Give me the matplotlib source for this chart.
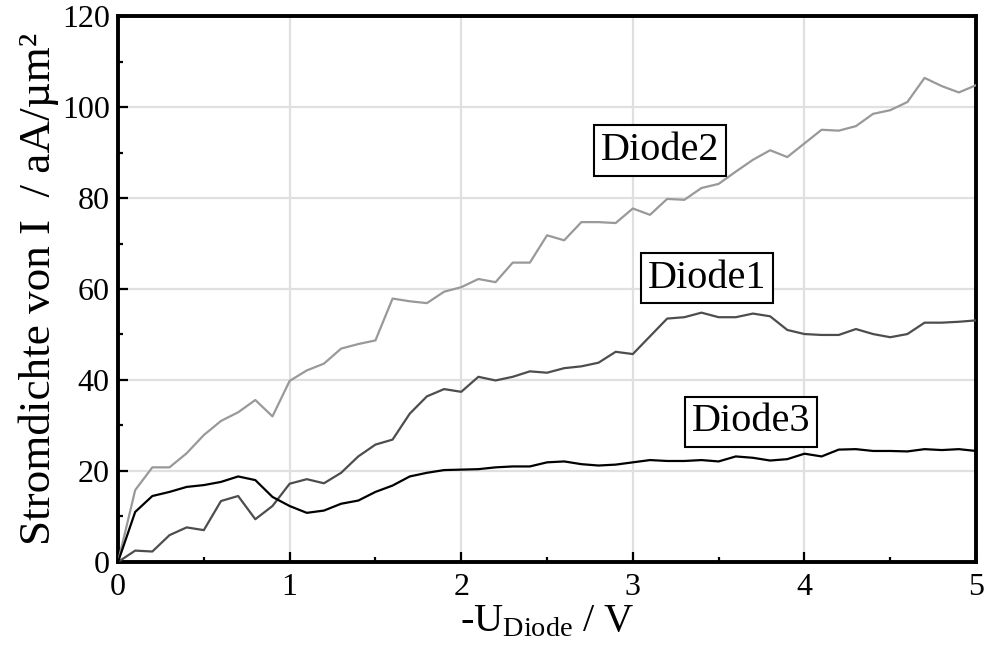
import matplotlib
matplotlib.use("Agg")
import matplotlib.pyplot as plt
from matplotlib.ticker import MultipleLocator

plt.rcParams["font.family"] = ["Liberation Serif", "DejaVu Serif"]
plt.rcParams["mathtext.fontset"] = "custom"
plt.rcParams["mathtext.rm"] = "Liberation Serif"
plt.rcParams["mathtext.it"] = "Liberation Serif:italic"

# Sperrspannung in V
voltage = [0.0, 0.1, 0.2, 0.3, 0.4, 0.5, 0.6, 0.7, 0.8, 0.9,
           1.0, 1.1, 1.2, 1.3, 1.4, 1.5, 1.6, 1.7, 1.8, 1.9,
           2.0, 2.1, 2.2, 2.3, 2.4, 2.5, 2.6, 2.7, 2.8, 2.9,
           3.0, 3.1, 3.2, 3.3, 3.4, 3.5, 3.6, 3.7, 3.8, 3.9,
           4.0, 4.1, 4.2, 4.3, 4.4, 4.5, 4.6, 4.7, 4.8, 4.9,
           5.0]

# Stromdichte in aA/µm²
diode1 = [0.0, 2.5, 2.3, 5.9, 7.6, 7.0, 13.4, 14.5, 9.4, 12.3,
          17.2, 18.2, 17.3, 19.6, 23.2, 25.8, 26.9, 32.6, 36.4, 38.0,
          37.4, 40.7, 39.9, 40.7, 41.9, 41.6, 42.6, 43.0, 43.8, 46.2,
          45.7, 49.6, 53.5, 53.8, 54.8, 53.8, 53.8, 54.6, 54.0, 51.0,
          50.1, 49.9, 49.9, 51.2, 50.1, 49.4, 50.1, 52.6, 52.6, 52.8,
          53.1]

diode2 = [0.0, 15.8, 20.8, 20.8, 23.9, 27.9, 31.0, 32.9, 35.6, 32.0,
          39.8, 42.1, 43.6, 46.9, 47.9, 48.7, 57.9, 57.3, 56.9, 59.4,
          60.4, 62.2, 61.5, 65.8, 65.8, 71.8, 70.7, 74.7, 74.7, 74.5,
          77.7, 76.3, 79.8, 79.6, 82.2, 83.1, 85.8, 88.4, 90.5, 89.0,
          92.0, 95.0, 94.8, 95.8, 98.5, 99.3, 101.1, 106.4, 104.6, 103.2,
          104.8]

diode3 = [0.0, 11.0, 14.5, 15.4, 16.5, 16.9, 17.6, 18.8, 18.0, 14.3,
          12.3, 10.8, 11.3, 12.8, 13.5, 15.4, 16.8, 18.8, 19.6, 20.2,
          20.3, 20.4, 20.8, 21.0, 21.0, 21.9, 22.1, 21.5, 21.2, 21.4,
          21.9, 22.4, 22.2, 22.2, 22.4, 22.1, 23.2, 22.9, 22.3, 22.6,
          23.8, 23.2, 24.7, 24.8, 24.4, 24.4, 24.3, 24.8, 24.6, 24.8,
          24.4]

series_names = ["Diode1", "Diode2", "Diode3"]
label_pos = [(3.43, 62.4), (3.16, 90.5), (3.69, 30.8)]

fig = plt.figure(figsize=(9.86, 6.54), dpi=100)
ax = fig.add_axes([0.1197, 0.1407, 0.8702, 0.8348])

ax.plot(voltage, diode2, color="#999999", lw=1.6, zorder=3)
ax.plot(voltage, diode1, color="#4d4d4d", lw=1.6, zorder=3)
ax.plot(voltage, diode3, color="#000000", lw=1.6, zorder=4)

for name, (tx, ty) in zip(series_names, label_pos):
    ax.text(tx, ty, name, fontsize=29, ha="center", va="center", zorder=5,
            bbox=dict(boxstyle="square,pad=0.17", fc="white", ec="black", lw=1.5))

ax.set_xlim(0, 5)
ax.set_ylim(0, 120)
ax.xaxis.set_major_locator(MultipleLocator(1))
ax.xaxis.set_minor_locator(MultipleLocator(0.5))
ax.yaxis.set_major_locator(MultipleLocator(20))
ax.yaxis.set_minor_locator(MultipleLocator(10))

ax.grid(True, which="major", color="#e0e0e0", lw=1.6, zorder=0)
ax.set_axisbelow(True)

for sp in ax.spines.values():
    sp.set_linewidth(2.8)
    sp.set_color("black")

ax.tick_params(which="major", direction="in", length=7.5, width=1.6,
               labelsize=23, top=False, right=False)
ax.tick_params(axis="x", which="major", pad=8)
ax.tick_params(axis="y", which="major", pad=6)
ax.tick_params(which="minor", direction="in", length=3.5, width=1.6,
               top=False, right=False)

ax.set_xlabel("-U$_{\\mathrm{Diode}}$ / V", fontsize=29, labelpad=1)
ax.set_ylabel("Stromdichte von I  / aA/µm²", fontsize=32.5, labelpad=2)

fig.savefig("out.png", dpi=100)
